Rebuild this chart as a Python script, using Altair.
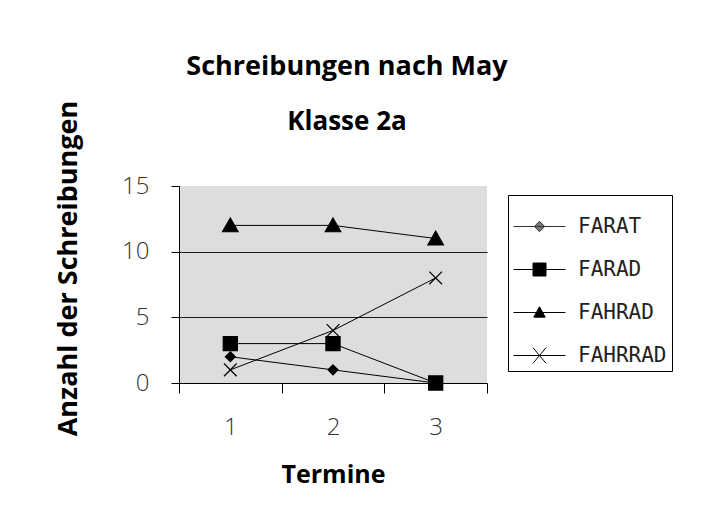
import altair as alt
import pandas as pd

termine = [1, 2, 3]
series = ["FARAT", "FARAD", "FAHRAD", "FAHRRAD"]
farat = [2, 1, 0]
farad = [3, 3, 0]
fahrad = [12, 12, 11]
fahrrad = [1, 4, 8]

values = {"FARAT": farat, "FARAD": farad, "FAHRAD": fahrad, "FAHRRAD": fahrrad}
rows = []
for s in series:
    for t, v in zip(termine, values[s]):
        rows.append({"Termin": t, "Serie": s, "Wert": v})
df = pd.DataFrame(rows)

plot_paths = [
    "M0,-0.7L0.7,0L0,0.7L-0.7,0Z",
    "M-1,-1H1V1H-1Z",
    "M0,-1.05L1.1,0.9H-1.1Z",
    "M-0.9,-0.9L0.9,0.9M-0.9,0.9L0.9,-0.9",
]
legend_paths = [
    "M-1,0H1M0,-0.2L0.2,0L0,0.2L-0.2,0Z",
    "M-1,0H1M-0.25,-0.25H0.25V0.25H-0.25Z",
    "M-1,0H1M0,-0.22L0.22,0.18H-0.22Z",
    "M-1,0H1M-0.25,-0.3L0.25,0.3M-0.25,0.3L0.25,-0.3",
]
legend_fills = ["#777777", "black", "black", "white"]
legend_strokes = ["#333333", "black", "black", "black"]

x_enc = alt.X(
    "Termin:O",
    bandPosition=0.5,
    scale=alt.Scale(type="band", paddingInner=0, paddingOuter=0),
    axis=alt.Axis(
        title="Termine",
        labelAngle=0,
        tickBand="extent",
        tickSize=10,
        labelPadding=22,
        titlePadding=23,
    ),
)
y_enc = alt.Y(
    "Wert:Q",
    scale=alt.Scale(domain=[0, 15]),
    axis=alt.Axis(
        title="Anzahl der Schreibungen",
        values=[0, 5, 10, 15],
        grid=True,
        gridColor="#1a1a1a",
        gridWidth=1.2,
        gridOpacity={"condition": {"test": "datum.value == 15 || datum.value == 0", "value": 0}, "value": 1},
        tickSize=8,
        labelPadding=22,
        titlePadding=39,
        titleFontSize=27,
        titleY=82,
    ),
)

lines = alt.Chart(df).mark_line(color="black", strokeWidth=1).encode(
    x=x_enc, y=y_enc, detail="Serie:N"
)

point_layers = []
for s, p in zip(series, plot_paths):
    point_layers.append(
        alt.Chart(df)
        .transform_filter(alt.datum.Serie == s)
        .mark_point(shape=p, filled=True, fill="black", stroke="black",
                    strokeWidth=1.2, opacity=1, size=200)
        .encode(x=x_enc, y=y_enc)
    )

mono = "DejaVu Sans Mono, Liberation Mono, monospace"
leg = dict(
    title=None,
    orient="none",
    legendX=329,
    legendY=9,
    strokeColor="black",
    fillColor="white",
    padding=5,
    rowPadding=6,
    labelFont=mono,
    labelFontSize=21,
    labelColor="#222222",
    labelOffset=12,
    symbolSize=2704,
    symbolStrokeWidth=1,
)

legend_layer = alt.Chart(df).transform_filter("datum.Wert < 0").mark_point(
    filled=False, strokeWidth=1, opacity=1, size=2704
).encode(
    x=x_enc,
    y=y_enc,
    shape=alt.Shape("Serie:N", scale=alt.Scale(domain=series, range=legend_paths), legend=alt.Legend(**leg)),
    fill=alt.Fill("Serie:N", scale=alt.Scale(domain=series, range=legend_fills), legend=alt.Legend(**leg)),
    stroke=alt.Stroke("Serie:N", scale=alt.Scale(domain=series, range=legend_strokes), legend=alt.Legend(**leg)),
)

chart = (
    alt.layer(lines, *point_layers, legend_layer)
    .properties(
        width=308,
        height=197,
        padding={"left": 46, "top": 45, "right": 5, "bottom": 5},
        title=alt.TitleParams(
            text="Schreibungen nach May",
            subtitle="Klasse 2a",
            anchor="middle",
            dx=14,
            font="Open Sans",
            fontSize=27,
            fontWeight="bold",
            color="black",
            subtitleFont="Open Sans",
            subtitleFontSize=26,
            subtitleFontWeight="bold",
            subtitleColor="black",
            subtitlePadding=28,
            offset=-36,
        ),
    )
    .configure_view(fill="#dddddd", stroke=None)
    .configure_legend(labelFont=mono, labelFontSize=21)
    .configure_axis(
        domainColor="black",
        domainWidth=1,
        tickColor="black",
        tickWidth=1,
        labelFont="Open Sans",
        labelFontSize=24,
        labelFontWeight=300,
        labelColor="#333333",
        titleFont="Open Sans",
        titleFontSize=25,
        titleFontWeight="bold",
        titleColor="black",
    )
)

chart.save("out.html", embed_options={"renderer": "svg", "actions": False})
